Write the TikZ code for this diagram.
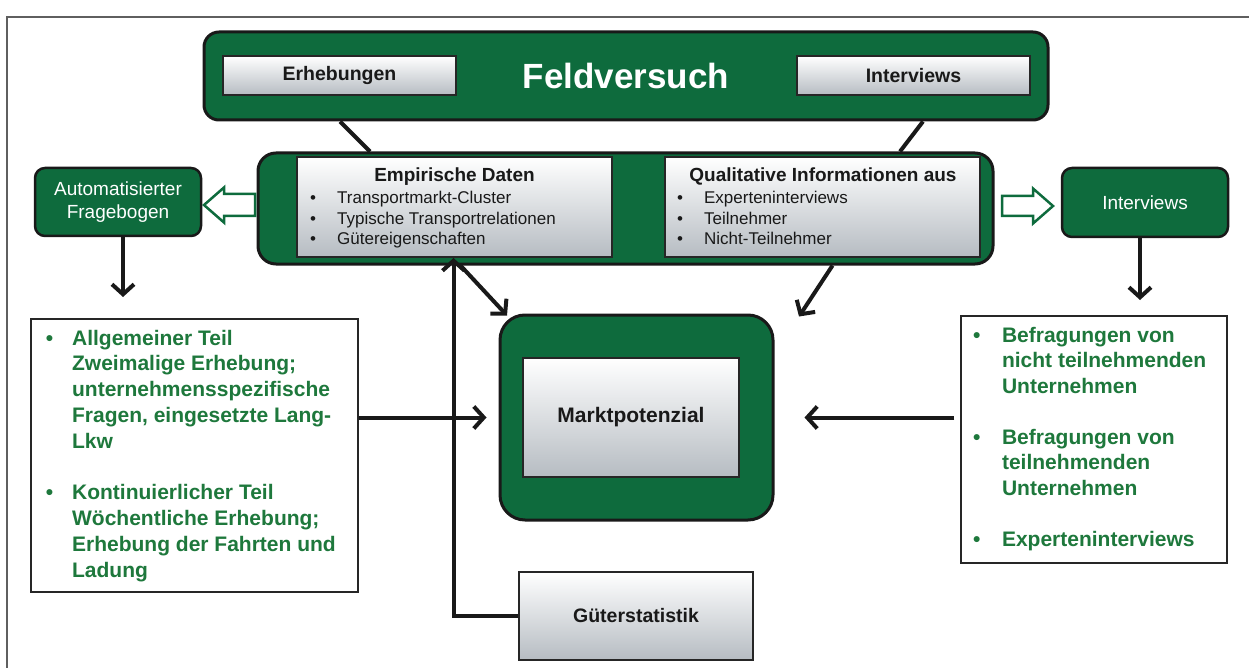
\documentclass[tikz,border=0pt]{standalone}
\usepackage{fontspec}
\setmainfont{Liberation Sans}
\usetikzlibrary{arrows.meta,calc}
\definecolor{dgreen}{RGB}{14,107,61}
\definecolor{tgreen}{RGB}{30,120,60}
\definecolor{gbot}{RGB}{182,188,194}
\definecolor{framegray}{RGB}{95,95,95}
\begin{document}
\begin{tikzpicture}[x=1pt,y=-1pt,
  greenbox/.style={draw=black!90, line width=3pt, fill=dgreen, rounded corners=15pt, inner sep=0pt},
  gradbox/.style={draw=black!85, line width=2pt, top color=white, bottom color=gbot, inner sep=0pt,
                  font=\fontsize{19.5}{22}\selectfont\bfseries, text=black!90},
  smallgreen/.style={draw=black!90, line width=2.5pt, fill=dgreen, rounded corners=10pt, text=white,
                  font=\fontsize{19}{23}\selectfont, align=center, inner sep=0pt},
  textbox/.style={draw=black!85, line width=1.5pt, fill=white, inner sep=0pt},
  listtext/.style={anchor=west, inner sep=0pt, font=\fontsize{17}{20.5}\selectfont, text=black!90},
  greenlist/.style={anchor=north west, inner sep=0pt, font=\fontsize{21}{25.8}\selectfont\bfseries, text=tgreen},
  conn/.style={line width=4pt, draw=black!90},
  arr/.style={conn, -{Straight Barb[length=10pt,width=22pt]}},
  hollow/.style={draw=dgreen, line width=2.5pt, fill=white, line join=miter}
]
\useasboundingbox (0,0) rectangle (1249,668);
% frame
\draw[framegray, line width=2pt] (1249,17) -- (7,17) -- (7,668);

% top box
\node[greenbox, minimum width=844pt, minimum height=88pt, text=white,
      font=\fontsize{35}{40}\selectfont\bfseries] (feld) at (626,76) {Feldversuch};
\node[gradbox, minimum width=233pt, minimum height=39pt] (erh) at (339.5,75.5) {Erhebungen};
\node[gradbox, minimum width=233pt, minimum height=39pt] (intt) at (913.5,75.5) {Interviews};

% middle box
\node[greenbox, rounded corners=18pt, minimum width=735pt, minimum height=111pt] (mid) at (625.5,208.5) {};
\node[gradbox, minimum width=315pt, minimum height=100pt] (emp) at (454.5,207) {};
\node[gradbox, minimum width=315pt, minimum height=100pt] (qual) at (822.5,207) {};
\node[anchor=base, inner sep=0pt, font=\fontsize{19}{22}\selectfont\bfseries, text=black!90] (empti) at (454.5,182) {Empirische Daten};
\node[anchor=base, inner sep=0pt, font=\fontsize{19}{22}\selectfont\bfseries, text=black!90] (qualti) at (823,182) {Qualitative Informationen aus};
\node[listtext] (empl) at (310,220.4) {\begin{tabular}{@{}l@{\hspace{21pt}}l@{}}
  •& Transportmarkt-Cluster\\
  •& Typische Transportrelationen\\
  •& Gütereigenschaften\end{tabular}};
\node[listtext] (quall) at (677,220.4) {\begin{tabular}{@{}l@{\hspace{21pt}}l@{}}
  •& Experteninterviews\\
  •& Teilnehmer\\
  •& Nicht-Teilnehmer\end{tabular}};

% side boxes
\node[smallgreen, minimum width=166pt, minimum height=68pt] (auto) at (118,202) {Automatisierter\\Fragebogen};
\node[smallgreen, minimum width=166pt, minimum height=69pt] (intr) at (1145,202.5) {Interviews};

% hollow block arrows
\draw[hollow] (204,205) -- (224,187.5) -- (224,194) -- (255,194) -- (255,216) -- (224,216) -- (224,222.5) -- cycle;
\draw[hollow] (1053,206) -- (1033,188.5) -- (1033,196) -- (1002,196) -- (1002,216) -- (1033,216) -- (1033,223.5) -- cycle;

% text boxes
\node[textbox, minimum width=327pt, minimum height=273pt] (ltext) at (194.5,455.5) {};
\node[greenlist] (ltextc) at (45.6,326.9) {\begin{tabular}{@{}l@{\hspace{19pt}}l@{}}
  •& Allgemeiner Teil\\
   & Zweimalige Erhebung;\\
   & unternehmensspezifische\\
   & Fragen, eingesetzte Lang-\\
   & Lkw\\
   & \\
  •& Kontinuierlicher Teil\\
   & Wöchentliche Erhebung;\\
   & Erhebung der Fahrten und\\
   & Ladung\end{tabular}};
\node[textbox, minimum width=266pt, minimum height=247pt] (rtext) at (1094,439.5) {};
\node[greenlist, font=\fontsize{21}{25.5}\selectfont\bfseries] (rtextc) at (973,324.2) {\begin{tabular}{@{}l@{\hspace{21.5pt}}l@{}}
  •& Befragungen von\\
   & nicht teilnehmenden\\
   & Unternehmen\\
   & \\
  •& Befragungen von\\
   & teilnehmenden\\
   & Unternehmen\\
   & \\
  •& Experteninterviews\end{tabular}};

% Marktpotenzial
\node[greenbox, rounded corners=25pt, minimum width=273pt, minimum height=205pt] (mkt) at (636.5,417.5) {};
\node[gradbox, font=\fontsize{21}{25}\selectfont\bfseries, minimum width=216pt, minimum height=119pt] (mkti) at (631,417.5) {Marktpotenzial};

% Güterstatistik
\node[gradbox, minimum width=234pt, minimum height=88pt] (gut) at (636,616) {Güterstatistik};

% connectors
\draw[conn] ([xshift=-286pt]feld.south) -- ([xshift=-255.5pt]mid.north);
\draw[conn] ([xshift=297pt]feld.south) -- ([xshift=274.5pt]mid.north);
\coordinate (ld) at (123,297);
\coordinate (rd) at (1140,300);
\draw[arr] (ld |- auto.south) -- (ld);
\draw[arr] (rd |- intr.south) -- (rd);
\draw[arr] (ltext.east |- mkt.west) -- ([xshift=-12pt]mkt.west);
\draw[arr] ([xshift=-6pt]rtext.west |- mkt.east) -- ([xshift=30pt]mkt.east);
\draw[arr] ([xshift=-165pt]mid.south) -- ([xshift=-129.5pt,yshift=-2pt]mkt.north);
\draw[arr] ([xshift=207pt]mid.south) -- ([xshift=162.5pt,yshift=-3pt]mkt.north);
\draw[arr] (gut.west) -| ([xshift=-1pt]emp.south);
\end{tikzpicture}
\end{document}
